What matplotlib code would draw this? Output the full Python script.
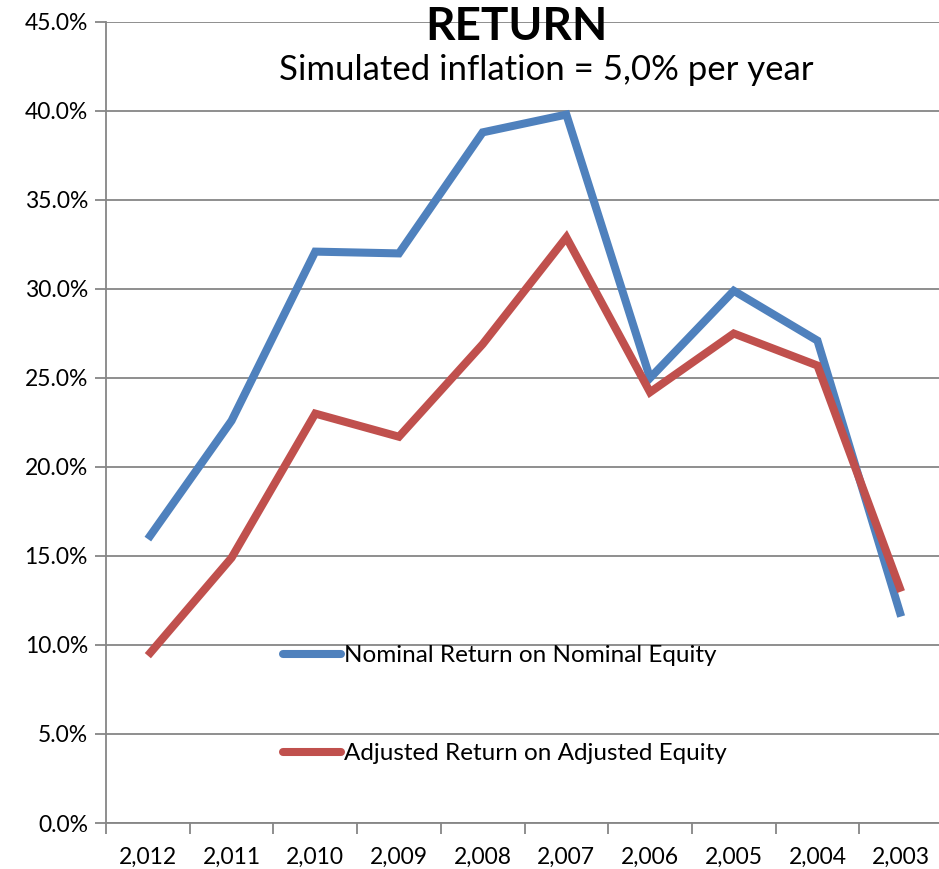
import matplotlib
matplotlib.use('Agg')
from matplotlib import pyplot as plt
from matplotlib.ticker import FuncFormatter, FixedLocator

years = ['2,012', '2,011', '2,010', '2,009', '2,008', '2,007', '2,006', '2,005', '2,004', '2,003']
nominal = [15.95, 22.6, 32.1, 32.0, 38.8, 39.8, 25.0, 29.9, 27.1, 11.6]
adjusted = [9.4, 14.9, 23.0, 21.7, 26.9, 32.9, 24.2, 27.5, 25.7, 13.0]

plt.rcParams['font.family'] = ['Lato', 'DejaVu Sans']

fig = plt.figure(figsize=(9.39, 8.69), dpi=100)
ax = fig.add_axes([106 / 939, 1 - 823 / 869, (943 - 106) / 939, (823 - 22) / 869])

x = list(range(len(years)))
ax.plot(x, nominal, color='#4F81BD', linewidth=5.8, solid_capstyle='butt', solid_joinstyle='miter',
        label='Nominal Return on Nominal Equity', zorder=3)
ax.plot(x, adjusted, color='#C0504D', linewidth=5.8, solid_capstyle='butt', solid_joinstyle='miter',
        label='Adjusted Return on Adjusted Equity', zorder=3)

ax.set_xlim(-0.5, len(years) - 0.5)
ax.set_ylim(0, 45)
ax.yaxis.set_major_locator(FixedLocator([i * 5 for i in range(10)]))
ax.yaxis.set_major_formatter(FuncFormatter(lambda v, p: f'{v:.1f}%'))
ax.set_xticks(x)
ax.set_xticklabels(years)
ax.xaxis.set_minor_locator(FixedLocator([i - 0.5 for i in range(len(years) + 1)]))

ax.tick_params(axis='x', which='major', length=0, pad=17, labelsize=16.5)
ax.tick_params(axis='x', which='minor', length=8, width=1.3, color='#868686', direction='out')
ax.tick_params(axis='y', length=8, width=1.3, color='#868686', labelsize=16.5, pad=5)

ax.grid(axis='y', color='#868686', linewidth=1.3, zorder=0)
ax.set_axisbelow(True)
for s in ['top', 'right']:
    ax.spines[s].set_visible(False)
for s in ['left', 'bottom']:
    ax.spines[s].set_color('#868686')
    ax.spines[s].set_linewidth(1.3)

leg = ax.legend(loc='upper left', bbox_to_anchor=(283 / 939, 1 - 645 / 869),
                bbox_transform=fig.transFigure, frameon=False, fontsize=17.5,
                handlelength=2.4, handletextpad=0.12, labelspacing=3.17,
                borderpad=0, borderaxespad=0)
for h in leg.get_lines():
    h.set_solid_capstyle('round')

fig.text(516 / 939, 1 - 27 / 869, 'RETURN', ha='center', va='center', fontsize=33, fontweight='bold')
fig.text(546 / 939, 1 - 70 / 869, 'Simulated inflation = 5,0% per year', ha='center', va='center', fontsize=25)

fig.savefig('out.png', dpi=100)
